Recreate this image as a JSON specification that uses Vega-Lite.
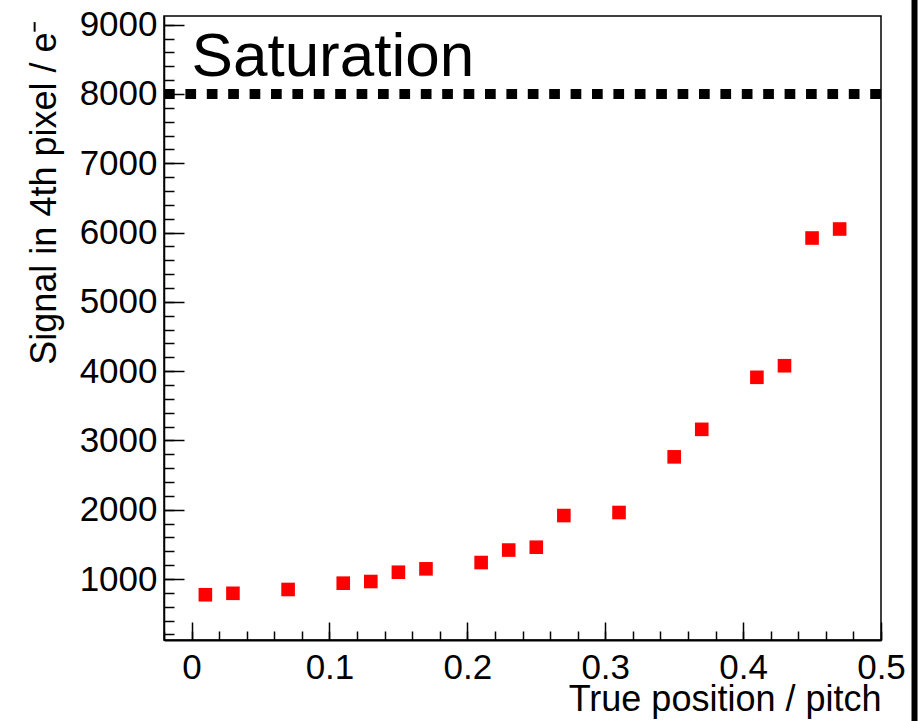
{
  "$schema": "https://vega.github.io/schema/vega-lite/v6.json",
  "width": 717,
  "height": 624,
  "autosize": "none",
  "padding": {"left": 164, "top": 16, "right": 38, "bottom": 81},
  "background": "white",
  "config": {
    "font": "Liberation Sans",
    "view": {"stroke": "black", "strokeWidth": 1.5},
    "axis": {
      "labelFont": "Liberation Sans",
      "titleFont": "Liberation Sans",
      "labelColor": "black",
      "titleColor": "black",
      "tickColor": "black",
      "domainColor": "black",
      "grid": false
    }
  },
  "datasets": {
    "signal": [
      {"position": 0.01, "signal": 773},
      {"position": 0.03, "signal": 794},
      {"position": 0.07, "signal": 849},
      {"position": 0.11, "signal": 940},
      {"position": 0.13, "signal": 964},
      {"position": 0.15, "signal": 1098},
      {"position": 0.17, "signal": 1147},
      {"position": 0.21, "signal": 1238},
      {"position": 0.23, "signal": 1418},
      {"position": 0.25, "signal": 1459},
      {"position": 0.27, "signal": 1916},
      {"position": 0.31, "signal": 1960},
      {"position": 0.35, "signal": 2763},
      {"position": 0.37, "signal": 3160},
      {"position": 0.41, "signal": 3911},
      {"position": 0.43, "signal": 4078},
      {"position": 0.45, "signal": 5921},
      {"position": 0.47, "signal": 6051}
    ],
    "saturation": [
      {"x0": -0.02, "x1": 0.5, "level": 8000}
    ],
    "label": [
      {"text": "Saturation", "x": 0.0, "y": 8254}
    ],
    "edge": [
      {"x": 0.5243, "y0": -1100, "y1": 9400}
    ]
  },
  "resolve": {"axis": {"x": "independent", "y": "independent"}},
  "layer": [
    {
      "data": {"name": "signal"},
      "mark": {"type": "square", "color": "#ff0000", "opacity": 1, "size": 185, "filled": true},
      "encoding": {
        "x": {
          "field": "position",
          "type": "quantitative",
          "scale": {"domain": [-0.02, 0.5], "nice": false, "zero": false},
          "axis": {
            "orient": "bottom",
            "values": [0, 0.1, 0.2, 0.3, 0.4, 0.5],
            "format": ".1~f",
            "tickSize": -18,
            "tickWidth": 1.5,
            "labelPadding": 28,
            "labelFontSize": 35,
            "labelFlush": false,
            "labelOverlap": false,
            "domainWidth": 2,
            "title": "True position / pitch",
            "titleFontSize": 36,
            "titleFontWeight": "normal",
            "titleAnchor": "end",
            "titleAlign": "right",
            "titleBaseline": "alphabetic",
            "titleX": 717,
            "titleY": 70
          }
        },
        "y": {
          "field": "signal",
          "type": "quantitative",
          "scale": {"domain": [120, 9125], "nice": false, "zero": false},
          "axis": {
            "orient": "left",
            "values": [1000, 2000, 3000, 4000, 5000, 6000, 7000, 8000, 9000],
            "format": "d",
            "tickSize": -20,
            "tickWidth": 1.5,
            "labelPadding": 27,
            "labelFontSize": 35,
            "labelFlush": false,
            "labelOverlap": false,
            "domainWidth": 1.5,
            "title": "Signal in 4th pixel / e⁻",
            "titleFontSize": 36,
            "titleFontWeight": "normal",
            "titleAngle": 270,
            "titleAlign": "right",
            "titleBaseline": "alphabetic",
            "titleAnchor": "end",
            "titleX": -109,
            "titleY": 4
          }
        }
      }
    },
    {
      "data": {"name": "saturation"},
      "mark": {"type": "rule", "color": "black", "strokeWidth": 10, "strokeDash": [10.7, 10.7], "strokeCap": "butt"},
      "encoding": {
        "x": {
          "field": "x0",
          "type": "quantitative",
          "axis": {
            "orient": "bottom",
            "values": [-0.02, 0, 0.02, 0.04, 0.06, 0.08, 0.1, 0.12, 0.14, 0.16, 0.18, 0.2, 0.22, 0.24, 0.26, 0.28, 0.3, 0.32, 0.34, 0.36, 0.38, 0.4, 0.42, 0.44, 0.46, 0.48, 0.5],
            "labels": false,
            "domain": false,
            "title": null,
            "tickSize": -9,
            "tickWidth": 1.5
          }
        },
        "x2": {"field": "x1"},
        "y": {
          "field": "level",
          "type": "quantitative",
          "axis": {
            "orient": "left",
            "values": [200, 400, 600, 800, 1000, 1200, 1400, 1600, 1800, 2000, 2200, 2400, 2600, 2800, 3000, 3200, 3400, 3600, 3800, 4000, 4200, 4400, 4600, 4800, 5000, 5200, 5400, 5600, 5800, 6000, 6200, 6400, 6600, 6800, 7000, 7200, 7400, 7600, 7800, 8000, 8200, 8400, 8600, 8800, 9000],
            "labels": false,
            "domain": false,
            "title": null,
            "tickSize": -10,
            "tickWidth": 1.5
          }
        }
      }
    },
    {
      "data": {"name": "label"},
      "mark": {"type": "text", "align": "left", "baseline": "alphabetic", "fontSize": 62, "font": "Liberation Sans", "color": "black"},
      "encoding": {
        "x": {"field": "x", "type": "quantitative", "axis": null},
        "y": {"field": "y", "type": "quantitative", "axis": null},
        "text": {"field": "text"}
      }
    },
    {
      "data": {"name": "edge"},
      "mark": {"type": "rule", "color": "black", "strokeWidth": 6, "clip": false},
      "encoding": {
        "x": {"field": "x", "type": "quantitative", "axis": null},
        "y": {"field": "y0", "type": "quantitative", "axis": null},
        "y2": {"field": "y1"}
      }
    }
  ]
}
